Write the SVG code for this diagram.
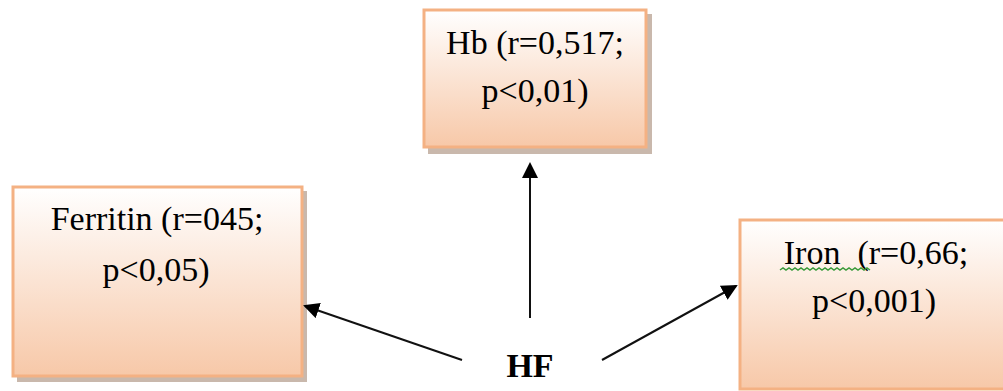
<svg xmlns="http://www.w3.org/2000/svg" width="1003" height="391" viewBox="0 0 1003 391">
<defs>
<linearGradient id="g" x1="0" y1="0" x2="0" y2="1">
<stop offset="0" stop-color="#FFFFFF"/>
<stop offset="1" stop-color="#F7C8A8"/>
</linearGradient>
<marker id="ah" markerWidth="8" markerHeight="8" refX="7" refY="4" orient="auto" markerUnits="strokeWidth">
<path d="M0,0 L8,4 L0,8 Z" fill="#000"/>
</marker>
<style>
.box{fill:url(#g);stroke:#F4B183;stroke-width:3}
.sh{fill:#C9B8AC}
.t{font-family:"Liberation Serif","Times New Roman",serif;font-size:34px;fill:#000;text-anchor:middle}
.b{font-weight:bold}
.c{stroke:#111;stroke-width:2;fill:none;marker-end:url(#ah)}
</style>
</defs>
<rect width="1003" height="391" fill="#fff"/>
<g id="node-hb">
<rect class="sh" x="428" y="14" width="224" height="140"/>
<rect class="box" x="424" y="10" width="222" height="137"/>
<text class="t" x="535" y="54">Hb (r=0,517;</text>
<text class="t" x="535" y="102">p&lt;0,01)</text>
</g>
<g id="node-ferritin">
<rect class="sh" x="17" y="191" width="290" height="191"/>
<rect class="box" x="13" y="187" width="289" height="189"/>
<text class="t" x="157" y="230">Ferritin (r=045;</text>
<text class="t" x="156" y="281">p&lt;0,05)</text>
</g>
<g id="node-iron">
<rect class="box" x="740" y="220" width="275" height="169"/>
<text class="t" x="876" y="264" xml:space="preserve">Iron  (r=0,66;</text>
<path d="M780,270 l3,-2 l3,2 l3,-2 l3,2 l3,-2 l3,2 l3,-2 l3,2 l3,-2 l3,2 l3,-2 l3,2 l3,-2 l3,2 l3,-2 l3,2 l3,-2 l3,2 l3,-2 l3,2 l3,-2 l3,2 l3,-2 l3,2 l3,-2 l3,2 l3,-2 l3,2 l3,-2 l3,2" fill="none" stroke="#3A9A3A" stroke-width="1.5"/>
<text class="t" x="874" y="312">p&lt;0,001)</text>
</g>
<g id="node-hf">
<text class="t b" x="530" y="377">HF</text>
</g>
<g id="connectors">
<line class="c" x1="530" y1="318" x2="530" y2="164"/>
<line class="c" x1="462" y1="360" x2="305" y2="306"/>
<line class="c" x1="602" y1="360" x2="736" y2="286"/>
</g>
</svg>
